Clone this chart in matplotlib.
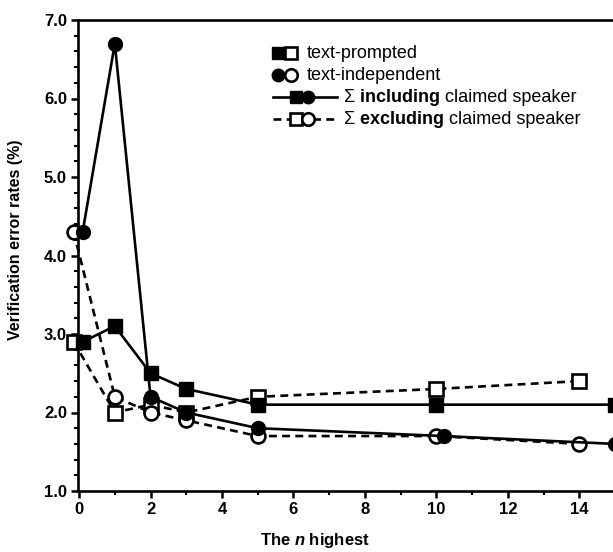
import matplotlib
matplotlib.use("Agg")
import matplotlib.pyplot as plt
from matplotlib.lines import Line2D
from matplotlib.ticker import MultipleLocator, FormatStrFormatter

plt.rcParams['font.family'] = ['Liberation Sans', 'DejaVu Sans']
plt.rcParams['mathtext.fontset'] = 'custom'
plt.rcParams['mathtext.it'] = 'Liberation Sans:italic:bold'
plt.rcParams['mathtext.rm'] = 'Liberation Sans:bold'

# ---- data ----
# text-prompted, including claimed speaker (filled squares, solid)
tp_inc_x = [0.1, 1, 2, 3, 5, 10, 15]
tp_inc_y = [2.9, 3.1, 2.5, 2.3, 2.1, 2.1, 2.1]
# text-independent, including claimed speaker (filled circles, solid)
ti_inc_x = [0.1, 1, 2, 3, 5, 10.2, 15]
ti_inc_y = [4.3, 6.7, 2.2, 2.0, 1.8, 1.7, 1.6]
# text-prompted, excluding claimed speaker (open squares, dashed)
tp_exc_x = [-0.15, 1, 2, 3, 5, 10, 14]
tp_exc_y = [2.9, 2.0, 2.1, 2.0, 2.2, 2.3, 2.4]
# text-independent, excluding claimed speaker (open circles, dashed)
ti_exc_x = [-0.15, 1, 2, 3, 5, 10, 14]
ti_exc_y = [4.3, 2.2, 2.0, 1.9, 1.7, 1.7, 1.6]

xticks = [0, 2, 4, 6, 8, 10, 12, 14]
yticks = [1.0, 2.0, 3.0, 4.0, 5.0, 6.0, 7.0]

W, H = 613, 552
fig = plt.figure(figsize=(W / 100, H / 100), dpi=100)
ax = fig.add_axes([78 / W, 61 / H, 16 * 35.8 / W, 471 / H])

lw = 1.9
ms = 10
ax.plot(tp_exc_x, tp_exc_y, ls=(0, (3, 2)), color='black', lw=lw, marker='s', ms=ms,
        mfc='white', mec='black', mew=1.9, clip_on=False, zorder=3)
ax.plot(ti_exc_x, ti_exc_y, ls=(0, (3, 2)), color='black', lw=lw, marker='o', ms=ms,
        mfc='white', mec='black', mew=1.9, clip_on=False, zorder=3)
ax.plot(tp_inc_x, tp_inc_y, ls='-', color='black', lw=lw, marker='s', ms=ms,
        mfc='black', mec='black', clip_on=False, zorder=4)
ax.plot(ti_inc_x, ti_inc_y, ls='-', color='black', lw=lw, marker='o', ms=ms,
        mfc='black', mec='black', clip_on=False, zorder=4)

ax.set_xlim(-0.03, 16)
ax.set_ylim(1.0, 7.0)
ax.set_xticks(xticks)
ax.set_yticks(yticks)
ax.xaxis.set_minor_locator(MultipleLocator(1))
ax.yaxis.set_minor_locator(MultipleLocator(0.2))
ax.yaxis.set_major_formatter(FormatStrFormatter('%.1f'))
ax.tick_params(which='major', direction='out', length=5, width=1.8, labelsize=12, pad=3)
ax.tick_params(which='minor', direction='out', length=3, width=1.5)
for lab in ax.get_xticklabels() + ax.get_yticklabels():
    lab.set_fontweight('bold')
for s in ['left', 'bottom', 'top']:
    ax.spines[s].set_linewidth(1.9)
ax.spines['right'].set_visible(False)

ax.set_ylabel('Verification error rates (%)', fontsize=11.5, fontweight='bold')
ax.yaxis.set_label_coords(-0.096, 0.533)
ax.set_xlabel('The $n$ highest', fontsize=12, fontweight='bold')
ax.xaxis.set_label_coords(0.414, -0.084)

# ---- legend (manual) ----
def fx(px):
    return px / W

def fy(py):
    return 1 - py / H

tr = fig.transFigure
lms = 9
fs = 13
rows = [53, 75, 97, 119]
# row 1
fig.add_artist(Line2D([fx(278)], [fy(rows[0])], transform=tr, marker='s', ms=lms, mfc='black', mec='black', ls='none'))
fig.add_artist(Line2D([fx(291)], [fy(rows[0])], transform=tr, marker='s', ms=lms, mfc='white', mec='black', mew=1.9, ls='none'))
fig.text(fx(307), fy(rows[0]), 'text-prompted', fontsize=fs, va='center', ha='left')
# row 2
fig.add_artist(Line2D([fx(278)], [fy(rows[1])], transform=tr, marker='o', ms=lms, mfc='black', mec='black', ls='none'))
fig.add_artist(Line2D([fx(291)], [fy(rows[1])], transform=tr, marker='o', ms=lms, mfc='white', mec='black', mew=1.9, ls='none'))
fig.text(fx(307), fy(rows[1]), 'text-independent', fontsize=fs, va='center', ha='left')
# row 3
fig.add_artist(Line2D([fx(273), fx(337)], [fy(rows[2])] * 2, transform=tr, color='black', lw=lw))
fig.add_artist(Line2D([fx(296)], [fy(rows[2])], transform=tr, marker='s', ms=lms, mfc='black', mec='black', ls='none'))
fig.add_artist(Line2D([fx(308)], [fy(rows[2])], transform=tr, marker='o', ms=lms, mfc='black', mec='black', ls='none'))
# row 4
fig.add_artist(Line2D([fx(273), fx(337)], [fy(rows[3])] * 2, transform=tr, color='black', lw=lw, ls=(0, (3, 2))))
fig.add_artist(Line2D([fx(296)], [fy(rows[3])], transform=tr, marker='s', ms=lms, mfc='white', mec='black', mew=1.9, ls='none'))
fig.add_artist(Line2D([fx(308)], [fy(rows[3])], transform=tr, marker='o', ms=lms, mfc='white', mec='black', mew=1.9, ls='none'))

for r, word in [(rows[2], 'including'), (rows[3], 'excluding')]:
    t1 = fig.text(fx(344), fy(r + 5), '\u03a3', fontsize=fs, va='baseline', ha='left')
    t2 = ax.annotate(' ' + word, xy=(1, 0), xycoords=t1, fontsize=fs, fontweight='bold',
                     va='bottom', ha='left')
    t3 = ax.annotate(' claimed speaker', xy=(1, 0), xycoords=t2, fontsize=fs,
                     va='bottom', ha='left')

fig.savefig('out.png', dpi=100)
